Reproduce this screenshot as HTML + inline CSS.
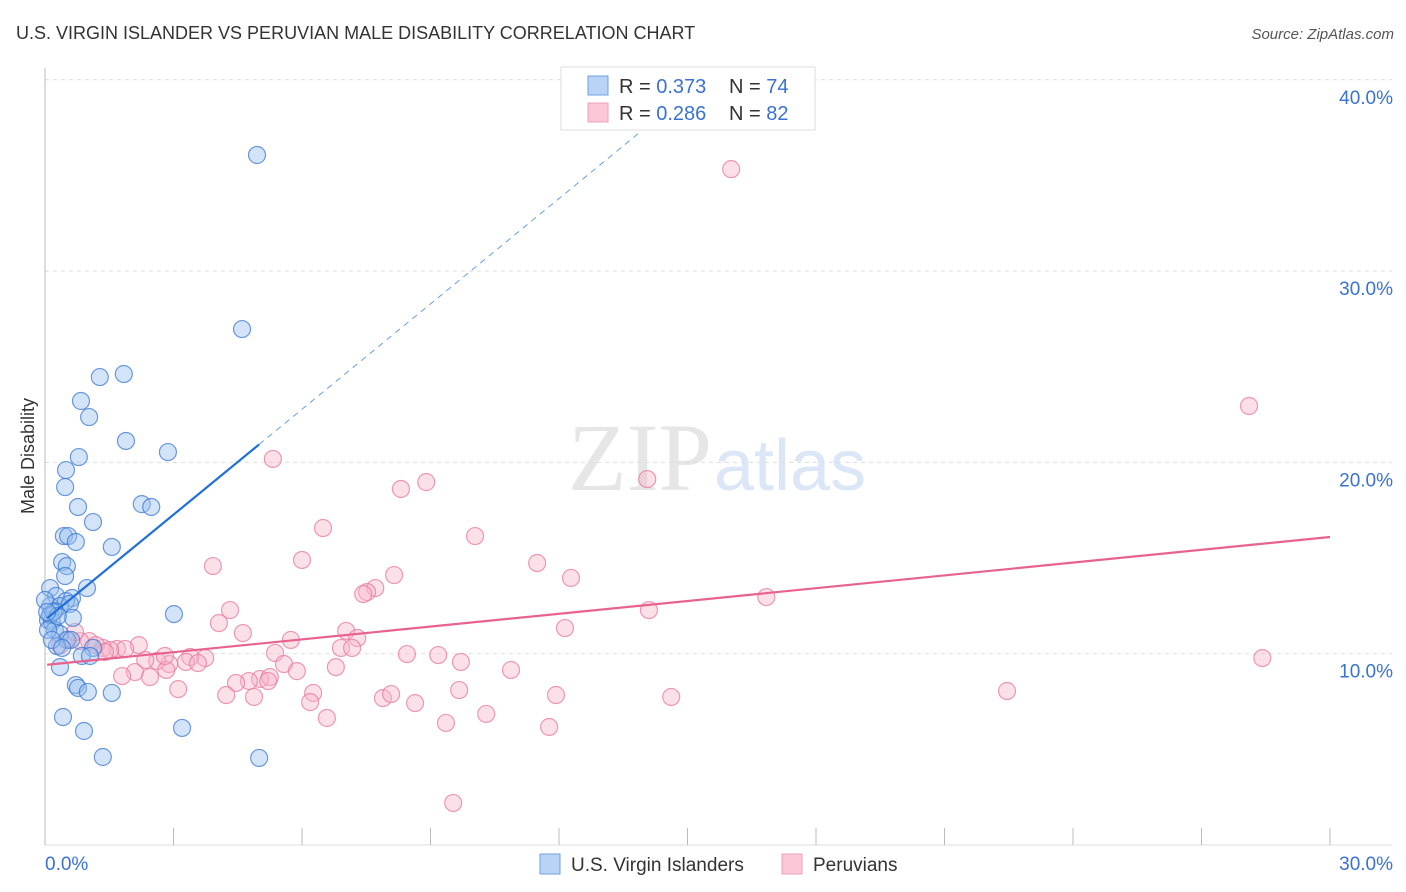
<!DOCTYPE html>
<html><head><meta charset="utf-8"><style>
body{margin:0;background:#fff;font-family:"Liberation Sans",sans-serif;}
svg{display:block}
</style></head><body>
<svg id="chart" width="1406" height="892">
<text x="16" y="39" font-size="18" fill="#333">U.S. VIRGIN ISLANDER VS PERUVIAN MALE DISABILITY CORRELATION CHART</text>
<text x="1394" y="39" font-size="15" fill="#555" font-style="italic" text-anchor="end">Source: ZipAtlas.com</text>
<text x="712" y="490" font-size="96" fill="#e6e6e6" text-anchor="end" font-family="Liberation Serif,serif">ZIP</text>
<text x="714" y="490" font-size="72" fill="#dbe7f6">atlas</text>
<text transform="translate(34,456) rotate(-90)" font-size="18" fill="#333" text-anchor="middle">Male Disability</text>
<g id="grid"></g><g id="axes"></g><g id="pts"></g><g id="trend"></g>
<g>
<rect x="561" y="67" width="254" height="63" fill="#fff" stroke="#ddd"/>
<rect x="588" y="76" width="20" height="19" fill="#b8d3f5" stroke="#6fa0e0"/>
<rect x="588" y="103" width="20" height="19" fill="#fac8d6" stroke="#eda0b8"/>
<text x="619" y="93" font-size="20" fill="#333">R = <tspan fill="#3a72d4">0.373</tspan><tspan x="729">N = </tspan><tspan fill="#3a72d4">74</tspan></text>
<text x="619" y="120" font-size="20" fill="#333">R = <tspan fill="#3a72d4">0.286</tspan><tspan x="729">N = </tspan><tspan fill="#3a72d4">82</tspan></text>
</g>
<g>
<rect x="540" y="854" width="20" height="20" fill="#b8d3f5" stroke="#6fa0e0"/>
<text x="571" y="871" font-size="19" fill="#333">U.S. Virgin Islanders</text>
<rect x="782" y="854" width="20" height="20" fill="#fac8d6" stroke="#eda0b8"/>
<text x="813" y="871" font-size="19" fill="#333">Peruvians</text>
</g>
</svg>
<script>
const yTicks=[10,20,30,40];
const yTickLabels=["10.0%","20.0%","30.0%","40.0%"];
const xTicks=[0,3,6,9,12,15,18,21,24,27,30];
const blueX=[4.95,4.60,1.84,1.28,0.84,1.03,1.89,2.87,0.79,0.49,0.47,2.26,2.48,0.77,1.12,0.44,0.54,0.72,1.56,0.40,0.51,0.47,0.12,0.98,0.26,0.63,0.49,0.12,0.35,0.58,3.01,0.23,0.65,0.07,0.16,0.23,0.35,0.51,0.61,0.28,1.12,0.86,1.05,0.35,0.72,0.77,1.00,1.56,0.42,3.20,0.91,1.35,5.00,0.12,0.19,0.30,0.07,0.16,0.40,0.0,0.05];
const blueY=[36.07,26.97,24.62,24.46,23.21,22.37,21.12,20.54,20.28,19.60,18.71,17.82,17.67,17.67,16.88,16.15,16.15,15.84,15.58,14.79,14.58,14.06,13.43,13.43,13.02,12.91,12.75,12.49,12.49,12.60,12.07,12.23,11.87,11.76,11.66,11.24,11.03,10.72,10.72,10.40,10.30,9.88,9.88,9.30,8.36,8.21,8.00,7.95,6.69,6.12,5.96,4.60,4.55,12.02,12.18,11.97,11.24,10.72,10.30,12.81,12.18];
const pinkX=[16.02,28.11,5.32,14.06,8.90,8.31,6.49,10.04,6.00,11.49,3.92,12.28,8.15,7.71,7.52,7.43,16.84,4.32,14.10,4.06,12.14,4.62,7.03,7.29,6.91,7.17,5.37,5.74,8.45,9.18,9.71,10.88,28.42,3.74,3.39,3.29,3.57,2.90,2.62,2.34,2.10,2.45,2.83,1.80,5.02,4.76,4.46,5.25,5.21,5.58,5.88,6.79,3.11,4.23,4.88,6.26,6.19,7.89,8.08,8.64,9.67,11.93,14.62,22.46,6.58,9.36,10.30,11.77,9.53,1.68,1.35,1.03,1.19,0.82,0.54,0.35,0.70,2.19,1.87,1.52,2.80,1.40];
const pinkY=[35.33,22.95,20.18,19.13,18.97,18.61,16.57,16.15,14.90,14.74,14.58,13.96,14.11,13.43,13.22,13.12,12.96,12.28,12.28,11.60,11.34,11.08,11.19,10.82,10.30,10.30,10.04,10.72,9.98,9.93,9.57,9.15,9.77,9.77,9.83,9.57,9.51,9.46,9.62,9.67,9.04,8.78,9.15,8.83,8.68,8.57,8.47,8.78,8.57,9.46,9.09,9.30,8.15,7.84,7.74,7.95,7.47,7.68,7.89,7.42,8.10,7.84,7.74,8.05,6.64,6.38,6.85,6.17,2.20,10.25,10.30,10.66,10.45,10.66,10.72,10.45,11.13,10.45,10.25,10.19,9.88,10.09];
const blueTrend=[11.76,1.836]; // intercept, slope
const pinkTrend=[9.41,0.223];
const NS="http://www.w3.org/2000/svg";
const sx=v=>45+v*1285/30, sy=v=>845-v*19.13;
function mk(t,a,p){const e=document.createElementNS(NS,t);for(const k in a)e.setAttribute(k,a[k]);p.appendChild(e);return e;}
const grid=document.getElementById('grid'),axes=document.getElementById('axes'),pts=document.getElementById('pts'),tr=document.getElementById('trend');
yTicks.forEach((v,i)=>{
 const l=mk('line',{x1:45,x2:1392,y1:sy(v),y2:sy(v),stroke:'#ddd','stroke-dasharray':'4,4'},grid);
 
 
 const t=mk('text',{x:1393,y:sy(v)+24,'font-size':19,fill:'#3a72d4','text-anchor':'end'},axes);
 t.textContent=yTickLabels[i];
 
 
});
const ax=mk('line',{x1:45,x2:45,y1:68,y2:845,stroke:'#bbb'},axes);


const bx=mk('line',{x1:45,x2:1392,y1:845,y2:845,stroke:'#ddd'},axes);


xTicks.forEach(v=>{
 const l=mk('line',{x1:sx(v),x2:sx(v),y1:828,y2:845,stroke:'#bbb'},axes);
 
 
});
const xl0=mk('text',{x:45,y:870,'font-size':19,fill:'#3a72d4'},axes);xl0.textContent='0.0%';


const xl1=mk('text',{x:1393,y:870,'font-size':19,fill:'#3a72d4','text-anchor':'end'},axes);xl1.textContent='30.0%';


pinkX.forEach((x,i)=>{
 const c=mk('circle',{cx:sx(x),cy:sy(pinkY[i]),r:8.5,fill:'rgba(248,180,200,0.42)',stroke:'rgba(232,120,160,0.75)','stroke-width':1.2},pts);
 
 
});
blueX.forEach((x,i)=>{
 const c=mk('circle',{cx:sx(x),cy:sy(blueY[i]),r:8.5,fill:'rgba(150,190,240,0.42)',stroke:'rgba(60,120,210,0.75)','stroke-width':1.2},pts);
 
 
});
const bt=x=>blueTrend[0]+blueTrend[1]*x, pt=x=>pinkTrend[0]+pinkTrend[1]*x;
const b1=mk('line',{x1:sx(0.05),y1:sy(bt(0.05)),x2:sx(5),y2:sy(bt(5)),stroke:'#2070d8','stroke-width':2.2},tr);


const b2=mk('line',{x1:sx(5),y1:sy(bt(5)),x2:sx(13.9),y2:sy(bt(13.9)),stroke:'#6a9ee0','stroke-width':1,'stroke-dasharray':'6,5'},tr);


const p1=mk('line',{x1:sx(0.05),y1:sy(pt(0.05)),x2:sx(30),y2:sy(pt(30)),stroke:'#e8628e','stroke-width':2.2},tr);


</script>
</body></html>
